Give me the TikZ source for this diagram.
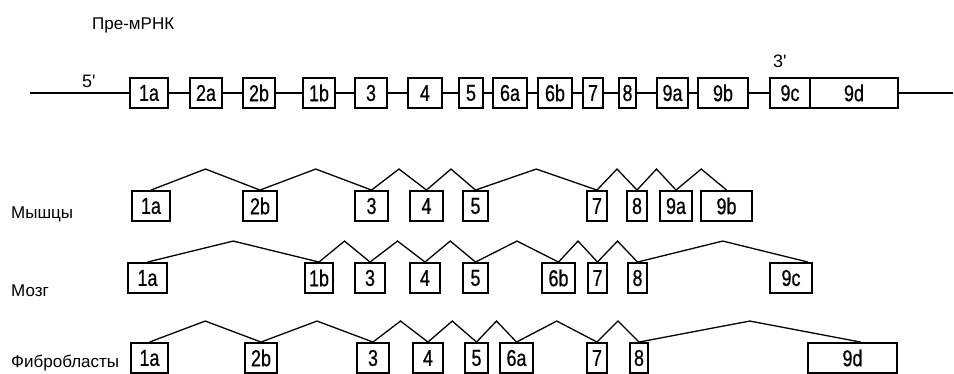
\documentclass[tikz,border=0pt]{standalone}
\usepackage{fontspec}
\setmainfont{Liberation Sans}
\newfontfamily\exonfont{Liberation Sans}[FakeStretch=0.78,FakeBold=0.6]
\usetikzlibrary{calc}

\begin{document}
\begin{tikzpicture}[x=1pt,y=-1pt,
    exon/.style={draw,line width=1.9pt,minimum height=30pt,inner sep=0pt,
        font=\exonfont\fontsize{23}{23}\selectfont},
    rna/.style={line width=2pt},
    splice/.style={line width=1.3pt,
        to path={-- ($(\tikztostart)!0.5!(\tikztotarget)+(0,-21)$) -- (\tikztotarget)}},
    lbl/.style={anchor=base west,inner sep=0pt,font=\fontsize{17}{17}\selectfont}]
    \useasboundingbox (0,0) rectangle (954,374);

    % Pre-mRNA
    \node[lbl] (title) at (92,30) {Пре-мРНК};
    \node[lbl,font=\fontsize{18}{18}\selectfont] (five) at (82,88) {5\textquotesingle};
    \node[lbl,font=\fontsize{18}{18}\selectfont] (three) at (773,68) {3\textquotesingle};
    \coordinate (fiveend) at (30,93);
    \coordinate (threeend) at (953,93);
    \node[exon,minimum width=38pt] (t1a) at (149,93) {1a};
    \node[exon,minimum width=32pt] (t2a) at (206,93) {2a};
    \node[exon,minimum width=32pt] (t2b) at (259,93) {2b};
    \node[exon,minimum width=32pt] (t1b) at (319,93) {1b};
    \node[exon,minimum width=32pt] (t3) at (371,93) {3};
    \node[exon,minimum width=34pt] (t4) at (425,93) {4};
    \node[exon,minimum width=24pt] (t5) at (471,93) {5};
    \node[exon,minimum width=34pt] (t6a) at (510,93) {6a};
    \node[exon,minimum width=34pt] (t6b) at (555,93) {6b};
    \node[exon,minimum width=20pt] (t7) at (593,93) {7};
    \node[exon,minimum width=17pt] (t8) at (627.5,93) {8};
    \node[exon,minimum width=31pt] (t9a) at (672.5,93) {9a};
    \node[exon,minimum width=50pt] (t9b) at (723,93) {9b};
    \node[exon,minimum width=40pt] (t9c) at (790,93) {9c};
    \node[exon,minimum width=88pt] (t9d) at (854,93) {9d};
    \draw[rna] (fiveend) -- (t1a) (t1a) -- (t2a) (t2a) -- (t2b) (t2b) -- (t1b)
        (t1b) -- (t3) (t3) -- (t4) (t4) -- (t5) (t5) -- (t6a) (t6a) -- (t6b)
        (t6b) -- (t7) (t7) -- (t8) (t8) -- (t9a) (t9a) -- (t9b) (t9b) -- (t9c)
        (t9d) -- (threeend);

    % Muscle
    \node[lbl] (muscle) at (11,219) {Мышцы};
    \node[exon,minimum width=38pt] (m1a) at (151,206) {1a};
    \node[exon,minimum width=34pt] (m2b) at (260,206) {2b};
    \node[exon,minimum width=33pt] (m3) at (371.5,206) {3};
    \node[exon,minimum width=33pt] (m4) at (426.5,206) {4};
    \node[exon,minimum width=25pt] (m5) at (475.5,206) {5};
    \node[exon,minimum width=20pt] (m7) at (597,206) {7};
    \node[exon,minimum width=20pt] (m8) at (637,206) {8};
    \node[exon,minimum width=32pt] (m9a) at (676,206) {9a};
    \node[exon,minimum width=51pt] (m9b) at (726.5,206) {9b};
    \draw[splice] (m1a.north) to (m2b.north) to (m3.north) to (m4.north)
        to (m5.north) to (m7.north) to (m8.north) to (m9a.north) to (m9b.north);

    % Brain
    \node[lbl] (brain) at (11,297) {Мозг};
    \node[exon,minimum width=39pt] (b1a) at (147.5,278) {1a};
    \node[exon,minimum width=28pt] (b1b) at (319,278) {1b};
    \node[exon,minimum width=30pt] (b3) at (370,278) {3};
    \node[exon,minimum width=30pt] (b4) at (425,278) {4};
    \node[exon,minimum width=25pt] (b5) at (475.5,278) {5};
    \node[exon,minimum width=33pt] (b6b) at (558.5,278) {6b};
    \node[exon,minimum width=19pt] (b7) at (597.5,278) {7};
    \node[exon,minimum width=19pt] (b8) at (637.5,278) {8};
    \node[exon,minimum width=42pt] (b9c) at (791,278) {9c};
    \draw[splice] (b1a.north) to (b1b.north) to (b3.north) to (b4.north)
        to (b5.north) to (b6b.north) to (b7.north) to (b8.north)
        to ([xshift=17pt]b9c.north);

    % Fibroblasts
    \node[lbl] (fibro) at (11,367) {Фибробласты};
    \node[exon,minimum width=37pt] (f1a) at (149.5,358) {1a};
    \node[exon,minimum width=32pt] (f2b) at (261,358) {2b};
    \node[exon,minimum width=32pt] (f3) at (373,358) {3};
    \node[exon,minimum width=30pt] (f4) at (428,358) {4};
    \node[exon,minimum width=23pt] (f5) at (476.5,358) {5};
    \node[exon,minimum width=33pt] (f6a) at (516.5,358) {6a};
    \node[exon,minimum width=20pt] (f7) at (597,358) {7};
    \node[exon,minimum width=18pt] (f8) at (639,358) {8};
    \node[exon,minimum width=89pt] (f9d) at (852.5,358) {9d};
    \draw[splice] (f1a.north) to (f2b.north) to (f3.north) to (f4.north)
        to (f5.north) to (f6a.north) to (f7.north) to (f8.north)
        to ([xshift=8pt]f9d.north);
\end{tikzpicture}
\end{document}
